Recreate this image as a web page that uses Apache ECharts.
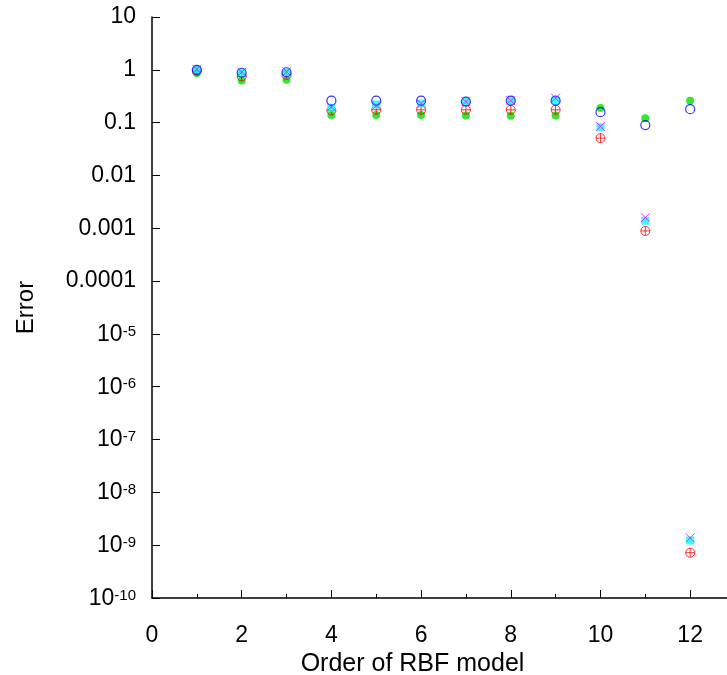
<!DOCTYPE html>
<html>
<head>
<meta charset="utf-8">
<script src="https://cdn.jsdelivr.net/npm/echarts@6/dist/echarts.min.js"></script>
<style>
html,body{margin:0;padding:0;background:#fff;}
#chart{width:727px;height:675px;}
</style>
</head>
<body>
<div id="chart"></div>
<script>
// ---- data ----
var orders = [1, 2, 3, 4, 5, 6, 7, 8, 9, 10, 11, 12];
var errRed     = [0.95, 0.75, 0.8, 0.17, 0.175, 0.175, 0.175, 0.175, 0.175, 0.051, 0.00089, 7.2e-10];
var errGreen   = [0.87, 0.63, 0.65, 0.14, 0.14, 0.14, 0.136, 0.135, 0.136, 0.19, 0.121, 0.26];
var errBlue    = [1.0, 0.88, 0.9, 0.26, 0.26, 0.26, 0.25, 0.26, 0.26, 0.158, 0.09, 0.18];
var errCyan    = [1.0, 0.88, 0.88, 0.19, 0.22, 0.23, 0.25, 0.26, 0.26, 0.082, 0.00139, 1.23e-9];
var errMagenta = [1.02, 0.9, 0.92, 0.2, 0.21, 0.23, 0.25, 0.26, 0.29, 0.085, 0.00159, 1.38e-9];

// y tick labels, by exponent: base text and superscript
var yTickExps   = [1, 0, -1, -2, -3, -4, -5, -6, -7, -8, -9, -10];
var yTickBases  = ['10', '1', '0.1', '0.01', '0.001', '0.0001', '10', '10', '10', '10', '10', '10'];
var yTickSups   = ['', '', '', '', '', '', '-5', '-6', '-7', '-8', '-9', '-10'];
var xTicks = [0, 2, 4, 6, 8, 10, 12];

function pairs(vals) {
  return orders.map(function (o, i) { return [o, vals[i]]; });
}

var FONT = 'Liberation Sans';

var chart = echarts.init(document.getElementById('chart'), null, {renderer: 'canvas'});

var plusCircle = 'path://M0,5A5,5 0 1,1 10,5A5,5 0 1,1 0,5ZM5,0L5,10M0,5L10,5';
var cross = 'path://M0,0L10,10M10,0L0,10';

chart.setOption({
  animation: false,
  backgroundColor: '#ffffff',
  grid: {left: 152, right: -8, top: 17, bottom: 77, containLabel: false, outerBoundsMode: 'none'},
  xAxis: {
    type: 'value',
    min: 0, max: 13, interval: 2,
    name: 'Order of RBF model',
    nameLocation: 'middle',
    nameGap: 54,
    nameTextStyle: {fontFamily: FONT, fontSize: 25, color: '#000', padding: [0, 62, 0, 0]},
    axisLine: {show: true, onZero: false, lineStyle: {color: '#000', width: 1.5}},
    axisTick: {show: true, inside: true, length: 8, lineStyle: {color: '#000', width: 1}},
    minorTick: {show: true, splitNumber: 2, length: 4, lineStyle: {color: '#000', width: 1}},
    axisLabel: {
      fontFamily: FONT, fontSize: 23, color: '#000', margin: 26,
      showMaxLabel: false,
      formatter: function (v) { return xTicks.indexOf(v) >= 0 ? String(v) : ''; }
    },
    splitLine: {show: false}
  },
  yAxis: {
    type: 'log',
    logBase: 10,
    min: 1e-10, max: 10,
    interval: 1,
    name: 'Error',
    nameLocation: 'middle',
    nameGap: 114,
    nameTextStyle: {fontFamily: FONT, fontSize: 24, color: '#000'},
    axisLine: {show: true, lineStyle: {color: '#000', width: 1.5}},
    axisTick: {show: true, inside: true, length: 8, lineStyle: {color: '#000', width: 1}},
    minorTick: {show: false},
    axisLabel: {
      fontFamily: FONT, fontSize: 23, color: '#000', margin: 16,
      formatter: function (v) {
        var e = Math.round(Math.log10(v));
        var i = yTickExps.indexOf(e);
        if (i < 0) return '';
        if (yTickSups[i] === '') return '{b|' + yTickBases[i] + '}';
        return '{bb|' + yTickBases[i] + '}{s|' + yTickSups[i] + '}';
      },
      rich: {
        b: {fontFamily: FONT, fontSize: 23, color: '#000'},
        bb: {fontFamily: FONT, fontSize: 23, color: '#000', lineHeight: 24, verticalAlign: 'bottom'},
        s: {fontFamily: FONT, fontSize: 15, color: '#000', lineHeight: 16, verticalAlign: 'top', padding: [2, 0, 16, 0]}
      }
    },
    splitLine: {show: false}
  },
  series: [
    {
      name: 'green', type: 'scatter', data: pairs(errGreen), z: 2,
      symbol: 'circle', symbolSize: 8,
      itemStyle: {color: '#00e000'}
    },
    {
      name: 'red', type: 'scatter', data: pairs(errRed), z: 3,
      symbol: plusCircle, symbolSize: 9,
      itemStyle: {color: 'rgba(0,0,0,0)', borderColor: '#ff0000', borderWidth: 1}
    },
    {
      name: 'cyan', type: 'scatter', data: pairs(errCyan), z: 4,
      symbol: 'rect', symbolSize: 8,
      itemStyle: {color: '#00ffff'}
    },
    {
      name: 'blue', type: 'scatter', data: pairs(errBlue), z: 5,
      symbol: 'circle', symbolSize: 9,
      itemStyle: {color: 'rgba(0,0,0,0)', borderColor: '#0000ff', borderWidth: 1.2}
    },
    {
      name: 'magenta', type: 'scatter', data: pairs(errMagenta), z: 6,
      symbol: cross, symbolSize: 9,
      itemStyle: {color: 'rgba(0,0,0,0)', borderColor: '#ff00ff', borderWidth: 1}
    }
  ]
});
</script>
</body>
</html>
